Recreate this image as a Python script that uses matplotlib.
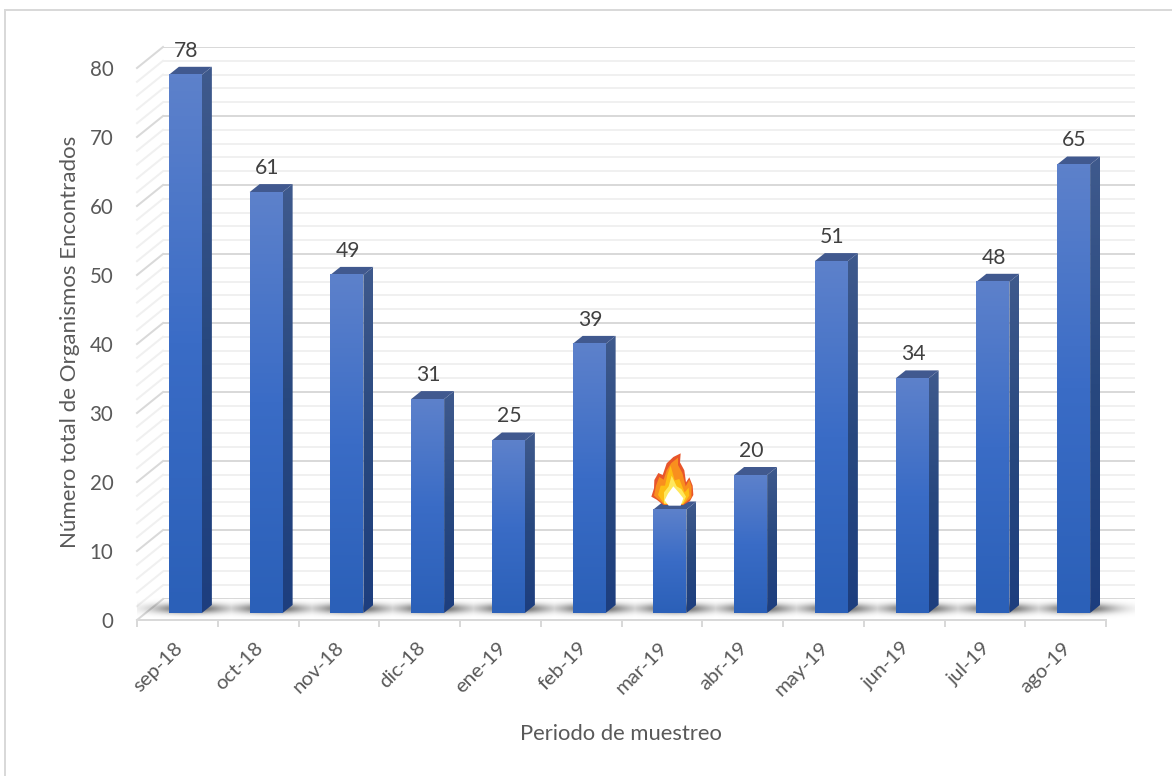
import numpy as np
import matplotlib
matplotlib.use("Agg")
import matplotlib.pyplot as plt
from matplotlib.lines import Line2D
from matplotlib.patches import Polygon
from matplotlib.transforms import ScaledTranslation

# ---- data ----
periods = ["sep-18", "oct-18", "nov-18", "dic-18", "ene-19", "feb-19",
           "mar-19", "abr-19", "may-19", "jun-19", "jul-19", "ago-19"]
organisms = [78, 61, 49, 31, 25, 39, 15, 20, 51, 34, 48, 65]
hidden_labels = ["mar-19"]
y_major = [0, 10, 20, 30, 40, 50, 60, 70, 80]
y_minor = list(range(0, 81, 2))
x_title = "Periodo de muestreo"
y_title = "Número total de Organismos Encontrados"

# ---- style ----
W, H = 1172, 776
FONT = "Lato"
TXT = "#595959"
GRID_MAJ = "#d9d9d9"
GRID_MIN = "#f0f0f0"
plt.rcParams["font.family"] = [FONT, "DejaVu Sans"]
PX = 72 / 100


def box(l, t, r, b):
    return [l / W, 1 - b / H, (r - l) / W, (b - t) / H]


def fx(x, y):
    return (x / W, 1 - y / H)


fig = plt.figure(figsize=(W / 100, H / 100), dpi=100, facecolor="white")

# chart frame (top and left edges only)
fig.add_artist(Line2D([5 / W, 5 / W], [0, 1 - 10 / H], color=GRID_MAJ, lw=2 * PX))
fig.add_artist(Line2D([5 / W, 1], [1 - 10 / H, 1 - 10 / H], color=GRID_MAJ, lw=2 * PX))

n = len(periods)

# back wall
back = fig.add_axes(box(163, 47, 1135, 599), zorder=1)
back.patch.set_alpha(0)
back.set_xlim(-0.5, n - 0.5)
back.set_ylim(0, 80)
back.set_xticks([])
back.set_yticks(y_major)
back.set_yticks(y_minor, minor=True)
back.tick_params(which="both", length=0, labelleft=False)
back.grid(True, which="minor", axis="y", color=GRID_MIN, lw=2 * PX)
back.grid(True, which="major", axis="y", color=GRID_MAJ, lw=2 * PX)
back.set_axisbelow(True)
for s in back.spines.values():
    s.set_visible(False)

# front plane: carries the axes, ticks and labels
front = fig.add_axes(box(137, 68, 1106, 620), zorder=2)
front.patch.set_alpha(0)
front.set_xlim(-0.5, n - 0.5)
front.set_ylim(0, 80)
for k, s in front.spines.items():
    s.set_visible(k == "bottom")
front.spines["bottom"].set_color(GRID_MAJ)
front.spines["bottom"].set_linewidth(2 * PX)
front.set_xticks(range(n))
front.set_xticklabels(periods, rotation=45, ha="right", rotation_mode="anchor",
                      color=TXT, fontsize=14.6)
front.set_xticks(np.arange(n + 1) - 0.5, minor=True)
front.tick_params(axis="x", which="major", length=0, pad=13)
front.tick_params(axis="x", which="minor", length=7 * PX, width=2 * PX, color=GRID_MAJ)
shift = ScaledTranslation(-3.5 / 100, -1 / 100, fig.dpi_scale_trans)
for lab in front.get_xticklabels():
    lab.set_transform(lab.get_transform() + shift)
front.set_yticks(y_major)
front.set_yticklabels([str(v) for v in y_major], color=TXT, fontsize=14.8)
front.tick_params(axis="y", length=0, pad=17)
front.set_xlabel(x_title, color=TXT, fontsize=15.8)
front.xaxis.set_label_coords(*fx(621, 724), transform=fig.transFigure)
front.set_ylabel(y_title, color=TXT, fontsize=16, va="center")
front.yaxis.set_label_coords(*fx(70, 342), transform=fig.transFigure)

# side wall lines and floor edge
for v in y_minor:
    p0 = front.transData.transform((-0.5, v))
    p1 = back.transData.transform((-0.5, v))
    inv = fig.transFigure.inverted()
    a, b = inv.transform(p0), inv.transform(p1)
    c = GRID_MAJ if v in y_major else GRID_MIN
    fig.add_artist(Line2D([a[0], b[0]], [a[1], b[1]], color=c, lw=2 * PX, zorder=1))

# bars plane
ax = fig.add_axes(box(145, 61, 1114, 613), zorder=3)
ax.patch.set_alpha(0)
ax.axis("off")
ax.set_xlim(-0.5, n - 0.5)
ax.set_ylim(0, 80)
x_unit = 969 / n
y_unit = 552 / 80
bw = 33 / x_unit
dx = 10 / x_unit
dy = 8 / y_unit

# soft shadow on the floor
sh_x = np.arange(137, 1135)
sh_y = np.arange(594, 620)
col = np.zeros_like(sh_x, dtype=float)
for i in range(n):
    cx = 145 + (i + 0.5) * x_unit + 5
    col = np.maximum(col, np.exp(-((sh_x - cx) / 36.0) ** 2))
rows = np.exp(-((sh_y - 608.0) / 5.0) ** 2)
alpha = np.outer(rows, col) * 0.62
sh = np.zeros(alpha.shape + (4,))
sh[..., 3] = alpha
shadow_ax = fig.add_axes(box(137, 594, 1135, 620), zorder=2.5)
shadow_ax.axis("off")
shadow_ax.imshow(sh, aspect="auto", interpolation="bilinear")

FRONT_GRAD = matplotlib.colors.LinearSegmentedColormap.from_list(
    "f", ["#2b60b8", "#3a6cc6", "#5d81cb"])
SIDE_GRAD = matplotlib.colors.LinearSegmentedColormap.from_list(
    "s", ["#1d3e7e", "#28487f", "#3f5a8d"])
grad = np.linspace(0, 1, 128)[::-1].reshape(-1, 1)

for i, v in enumerate(organisms):
    l, r = i - bw / 2, i + bw / 2
    sd = Polygon([(r, 0), (r + dx, dy), (r + dx, v + dy), (r, v)], closed=True,
                 fc="none", ec="none")
    ax.add_patch(sd)
    im2 = ax.imshow(grad, extent=(r, r + dx, 0, v + dy), aspect="auto", cmap=SIDE_GRAD,
                    vmin=0, vmax=1, zorder=3)
    im2.set_clip_path(sd)
    ax.add_patch(Polygon([(l, v), (r, v), (r + dx, v + dy), (l + dx, v + dy)],
                         closed=True, fc="#41598f", ec="none", zorder=3))
    ax.imshow(grad, extent=(l, r, 0, v), aspect="auto", cmap=FRONT_GRAD,
              vmin=0, vmax=1, zorder=3.1)
    if periods[i] not in hidden_labels:
        ax.annotate(str(v), (i, v), xytext=(1 * PX, 24 * PX), textcoords="offset points",
                    ha="center", va="center", color="#404040", fontsize=15.2, zorder=4)
ax.set_xlim(-0.5, n - 0.5)
ax.set_ylim(0, 80)

# flame marker over the mar-19 bar (drawn in its own small axes, zoomed-crop units)
fl = fig.add_axes(box(640, 445, 700, 515), zorder=5)
fl.axis("off")
fl.set_xlim(0, 180)
fl.set_ylim(210, 0)
layers = [
    ("#e8552a", [(122, 25), (100, 36), (80, 55), (68, 90), (55, 84), (43, 105), (42, 130),
                 (34, 155), (50, 164), (70, 180), (130, 180), (150, 168), (160, 150),
                 (158, 122), (148, 97), (138, 112), (133, 76), (120, 52)]),
    ("#f98f1e", [(114, 38), (94, 54), (80, 76), (71, 104), (58, 96), (48, 122), (42, 152),
                 (72, 178), (130, 178), (154, 158), (155, 125), (148, 104), (137, 124),
                 (127, 84), (114, 60)]),
    ("#fdbd14", [(92, 62), (82, 90), (75, 122), (62, 122), (54, 150), (74, 178), (130, 178),
                 (148, 152), (146, 128), (134, 142), (118, 102), (104, 106)]),
    ("#ffe85c", [(95, 92), (86, 124), (72, 142), (72, 176), (128, 176), (138, 155),
                 (124, 132), (110, 124)]),
    ("#ffffff", [(100, 124), (84, 146), (74, 166), (86, 182), (122, 182), (130, 160),
                 (116, 142)]),
]
for c, pts in layers:
    fl.add_patch(Polygon(pts, closed=True, fc=c, ec="none"))

fig.savefig("out.png", dpi=100, facecolor="white")
